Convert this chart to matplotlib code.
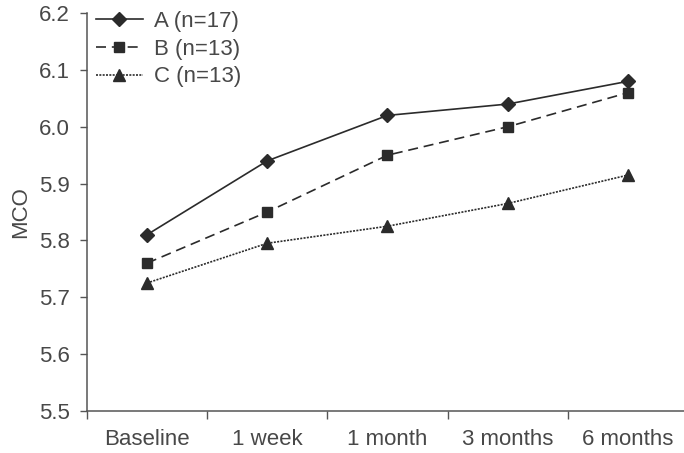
import matplotlib
matplotlib.use('Agg')
import matplotlib.pyplot as plt

# --- Data ---
timepoints = ['Baseline', '1 week', '1 month', '3 months', '6 months']
group_a = [5.81, 5.94, 6.02, 6.04, 6.08]
group_b = [5.76, 5.85, 5.95, 6.00, 6.06]
group_c = [5.725, 5.795, 5.825, 5.865, 5.915]
yticks = [5.5, 5.6, 5.7, 5.8, 5.9, 6.0, 6.1, 6.2]

plt.rcParams['font.family'] = ['Liberation Sans', 'DejaVu Sans']
txt = '#484848'
ink = '#2b2b2b'
fs = 16

fig = plt.figure(figsize=(6.84, 4.53), dpi=100)
ax = fig.add_axes([0.127, 0.093, 0.879, 0.878])

x = list(range(len(timepoints)))
ax.plot(x, group_a, color=ink, lw=1.2, ls='-', marker='D', ms=7, label='A (n=17)')
ax.plot(x, group_b, color=ink, lw=1.2, ls=(0, (6, 3.5)), marker='s', ms=7.5, label='B (n=13)')
ax.plot(x, group_c, color=ink, lw=1.2, ls=(0, (1.2, 0.8)), marker='^', ms=8.5, label='C (n=13)')

ax.set_xlim(-0.5, len(timepoints) - 0.5)
ax.set_ylim(5.5, 6.2)
ax.set_yticks(yticks)
ax.set_yticklabels([f'{v:.1f}' for v in yticks])

# category labels centred, ticks between categories
ax.set_xticks([i - 0.5 for i in range(len(timepoints))])
ax.set_xticklabels([])
ax.set_xticks(x, minor=True)
ax.set_xticklabels(timepoints, minor=True)
ax.tick_params(axis='x', which='minor', length=0, pad=13)
ax.tick_params(axis='x', which='major', length=6, width=1, color='#555555')
ax.tick_params(axis='y', length=5, width=1, color='#555555', pad=7)
ax.tick_params(axis='both', which='both', labelsize=fs, labelcolor=txt)

ax.set_ylabel('MCO', fontsize=fs, color=txt, labelpad=6)

for s in ['top', 'right']:
    ax.spines[s].set_visible(False)
for s in ['left', 'bottom']:
    ax.spines[s].set_color('#555555')
    ax.spines[s].set_linewidth(1.1)

leg = ax.legend(loc='upper left', frameon=False, fontsize=fs, handlelength=2.1,
                handletextpad=0.5, labelspacing=0.3, borderaxespad=0.0,
                borderpad=0.0, bbox_to_anchor=(0.015, 1.005))
for t in leg.get_texts():
    t.set_color(txt)

fig.savefig('out.png', dpi=100)
